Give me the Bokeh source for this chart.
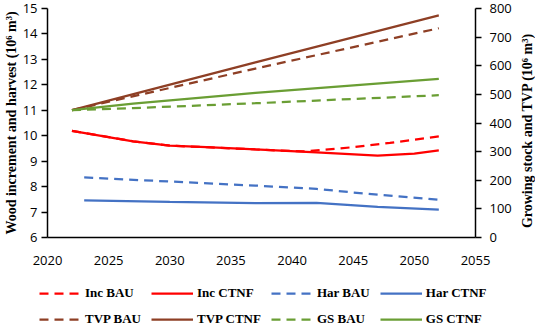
import math
from bokeh.plotting import figure
from bokeh.layouts import column, row
from bokeh.models import Range1d, LinearAxis, Legend, LegendItem, FixedTicker, Title
from bokeh.embed import file_html
from bokeh.resources import INLINE

# ---- data ----
inc_ctnf_years = [2022, 2027, 2030, 2033, 2037, 2042, 2047, 2050, 2052]
inc_ctnf = [10.19, 9.78, 9.61, 9.55, 9.46, 9.35, 9.22, 9.30, 9.42]
inc_bau_years = [2022, 2027, 2030, 2033, 2037, 2041, 2045, 2048, 2052]
inc_bau = [10.19, 9.78, 9.61, 9.55, 9.46, 9.38, 9.55, 9.72, 9.97]

har_bau_years = [2023, 2030, 2037, 2042, 2045, 2052]
har_bau = [8.36, 8.20, 8.04, 7.91, 7.77, 7.48]
har_ctnf_years = [2023, 2030, 2037, 2042, 2047, 2052]
har_ctnf = [7.46, 7.40, 7.35, 7.36, 7.20, 7.10]

tvp_years = [2022, 2037, 2052]
tvp_bau = [445, 590, 731]
tvp_ctnf = [445, 612, 776]

gs_years = [2022, 2027, 2037, 2052]
gs_bau = [445, 452, 469, 497]
gs_ctnf = [445, 468, 505, 554]

x_ticks = [2020, 2025, 2030, 2035, 2040, 2045, 2050, 2055]
left_ticks = list(range(6, 16))
right_ticks = list(range(0, 900, 100))

labels = ["Inc BAU", "Inc CTNF", "Har BAU", "Har CTNF",
          "TVP BAU", "TVP CTNF", "GS BAU", "GS CTNF"]

RED = "#FF0000"
BLUE = "#4472C4"
BROWN = "#8E3F25"
GREEN = "#6A9E34"

SERIF = "Liberation Serif"
SANS = "Open Sans"

p = figure(width=518, height=267,
           x_range=Range1d(2020, 2055), y_range=Range1d(6, 15),
           output_backend="svg", toolbar_location=None, frame_align=False,
           min_border_left=46, min_border_right=43, min_border_top=8, min_border_bottom=29)
p.extra_y_ranges = {"right": Range1d(0, 800)}
p.outline_line_color = None
p.xgrid.visible = False
p.ygrid.visible = False

def style_axis(ax, tick_out):
    ax.axis_line_color = "black"
    ax.axis_line_width = 1.5
    ax.major_tick_line_color = "black"
    ax.major_tick_line_width = 1.5
    ax.major_tick_out = tick_out
    ax.major_tick_in = 0
    ax.minor_tick_line_color = None
    ax.major_label_text_font = SANS
    ax.major_label_text_font_size = "13px"
    ax.major_label_text_color = "black"
    ax.axis_label_text_font = SERIF
    ax.axis_label_text_font_size = "14px"
    ax.axis_label_text_font_style = "bold"
    ax.axis_label_text_color = "black"

xa = p.xaxis[0]
xa.ticker = FixedTicker(ticks=x_ticks)
style_axis(xa, 0)
xa.major_label_standoff = 18

ya = p.yaxis[0]
ya.ticker = FixedTicker(ticks=left_ticks)
style_axis(ya, 6)
ya.axis_label = "Wood increment and harvest (10\u2076 m\u00b3)"
ya.major_label_standoff = 4
ya.axis_label_standoff = 1

ra = LinearAxis(y_range_name="right", ticker=FixedTicker(ticks=right_ticks))
style_axis(ra, 6)
ra.major_label_standoff = 8
p.add_layout(ra, "right")

LW = 2.25
DASH = "9 6"
def draw(fig, right_name=None):
    kw = {"y_range_name": right_name} if right_name else {}
    return [
        fig.line(inc_bau_years, inc_bau, color=RED, line_width=LW, line_dash=DASH),
        fig.line(inc_ctnf_years, inc_ctnf, color=RED, line_width=LW),
        fig.line(har_bau_years, har_bau, color=BLUE, line_width=LW, line_dash=DASH),
        fig.line(har_ctnf_years, har_ctnf, color=BLUE, line_width=LW),
        fig.line(tvp_years, tvp_bau, color=BROWN, line_width=LW, line_dash=DASH, **kw),
        fig.line(tvp_years, tvp_ctnf, color=BROWN, line_width=LW, **kw),
        fig.line(gs_years, gs_bau, color=GREEN, line_width=LW, line_dash=DASH, **kw),
        fig.line(gs_years, gs_ctnf, color=GREEN, line_width=LW, **kw),
    ]

draw(p, "right")

def blank(width, height, **borders):
    f = figure(width=width, height=height, x_range=Range1d(0, 1), y_range=Range1d(0, 1),
               output_backend="svg", toolbar_location=None, frame_align=False, **borders)
    f.axis.visible = False
    f.xgrid.visible = False
    f.ygrid.visible = False
    f.outline_line_color = None
    return f

# legend panel below: its view range excludes the data, so only the legend shows
q = blank(518, 60, min_border_left=0, min_border_right=0, min_border_top=0, min_border_bottom=0)
qr = draw(q)
items = [LegendItem(label=l, renderers=[r]) for l, r in zip(labels, qr)]
legend = Legend(items=items, orientation="horizontal", ncols=4, location=(39, 0),
                border_line_color=None, background_fill_alpha=0,
                label_text_font=SERIF, label_text_font_size="13px",
                label_text_font_style="bold", label_text_color="black",
                glyph_width=42, glyph_height=16, label_height=16,
                label_standoff=4, spacing=10, padding=0, margin=0)
q.add_layout(legend, "center")

# right-hand axis title, reading bottom to top
r = blank(16, 267, min_border_left=0, min_border_right=0, min_border_top=8, min_border_bottom=15)
r.add_layout(Title(text="Growing stock and TVP (10\u2076 m\u00b3)", align="center",
                   text_font=SERIF, text_font_size="14px", text_font_style="bold",
                   text_color="black", standoff=0, offset=0), "left")

layout = row(column(p, q, spacing=0), r, spacing=0)
open("out.html", "w").write(file_html(layout, INLINE))
